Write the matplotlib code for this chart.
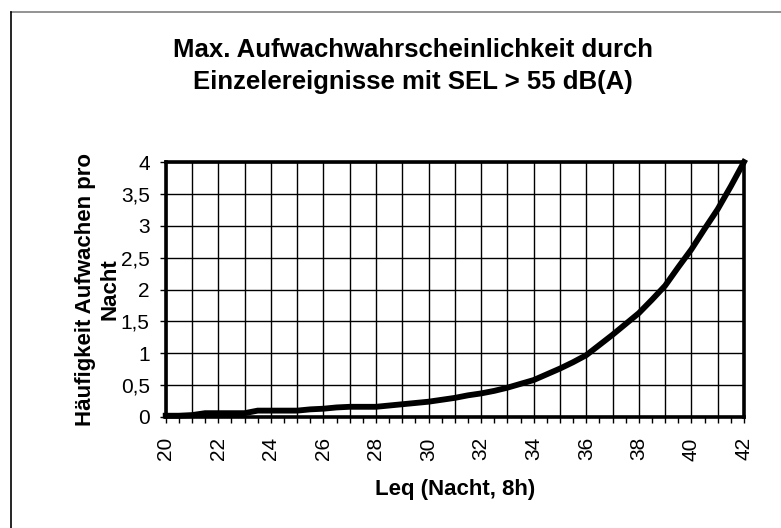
import matplotlib
matplotlib.use("Agg")
import matplotlib.pyplot as plt
from matplotlib.lines import Line2D
from matplotlib.ticker import MultipleLocator, FuncFormatter

# Daten
leq = [20, 20.5, 21, 21.5, 22, 22.5, 23, 23.5, 24, 24.5, 25, 25.5, 26, 26.5,
       27, 27.5, 28, 28.5, 29, 29.5, 30, 30.5, 31, 31.5, 32, 32.5, 33, 33.5,
       34, 34.5, 35, 35.5, 36, 36.5, 37, 37.5, 38, 38.5, 39, 39.5, 40, 40.5,
       41, 41.5, 42]
aufwachen = [0.02, 0.02, 0.03, 0.06, 0.06, 0.06, 0.06, 0.10, 0.10, 0.10, 0.10,
             0.12, 0.13, 0.15, 0.16, 0.16, 0.16, 0.18, 0.20, 0.22, 0.24, 0.27,
             0.30, 0.34, 0.37, 0.41, 0.46, 0.52, 0.58, 0.67, 0.76, 0.86, 0.97,
             1.13, 1.29, 1.46, 1.63, 1.84, 2.06, 2.35, 2.63, 2.95, 3.26, 3.62,
             4.0]

title = "Max. Aufwachwahrscheinlichkeit durch\nEinzelereignisse mit SEL > 55 dB(A)"
xlabel = "Leq (Nacht, 8h)"
ylabel = "Häufigkeit Aufwachen pro\nNacht"

plt.rcParams['font.family'] = ['Liberation Sans', 'DejaVu Sans']

W, H = 781, 528
x0, x1, ytop, ybot = 165.7, 744, 162, 417

fig = plt.figure(figsize=(W / 100, H / 100), dpi=100)
ax = fig.add_axes([x0 / W, 1 - ybot / H, (x1 - x0) / W, (ybot - ytop) / H])

ax.plot(leq, aufwachen, color="black", linewidth=4.2, solid_joinstyle="miter",
        clip_on=False, zorder=5)

ax.set_xlim(20, 42)
ax.set_ylim(0, 4)

# Achsen / Gitter
ax.xaxis.set_major_locator(MultipleLocator(1))
ax.xaxis.set_minor_locator(MultipleLocator(0.5))
ax.xaxis.set_major_formatter(FuncFormatter(lambda v, p: "%d" % v if round(v) % 2 == 0 else ""))
ax.yaxis.set_major_locator(MultipleLocator(0.5))
ax.yaxis.set_major_formatter(FuncFormatter(lambda v, p: ("%g" % v).replace(".", ",")))

ax.tick_params(axis="both", which="both", direction="out", length=4, width=1, colors="black")
ax.tick_params(axis="x", which="major", labelrotation=90, labelsize=15, pad=10.5)
ax.tick_params(axis="y", which="major", labelsize=15, pad=7.5)
ax.grid(True, which="major", color="black", linewidth=1)
ax.set_axisbelow(True)

for s in ax.spines.values():
    s.set_linewidth(2.6)
    s.set_color("black")
    s.set_zorder(6)

# Achsentitel
ax.set_xlabel(xlabel, fontsize=16, fontweight="bold", va="center")
ax.xaxis.set_label_coords(0.5, -(490 - ybot) / (ybot - ytop))
ax.set_ylabel(ylabel, fontsize=16, fontweight="bold", linespacing=1.2,
              ha="center", va="center")
ax.yaxis.set_label_coords(-(x0 - 98) / (x1 - x0), 0.5)

fig.text(413 / W, 1 - 66 / H, title, ha="center", va="center",
         fontsize=18.5, fontweight="bold", linespacing=1.4)

# Rahmen des Diagrammbereichs (nur oben und links sichtbar)
fig.add_artist(Line2D([11 / W, 1], [1 - 12 / H, 1 - 12 / H], color="#808080", linewidth=1.2))
fig.add_artist(Line2D([11 / W, 11 / W], [0, 1 - 12 / H], color="black", linewidth=1.2))

fig.savefig("out.png", dpi=100)
